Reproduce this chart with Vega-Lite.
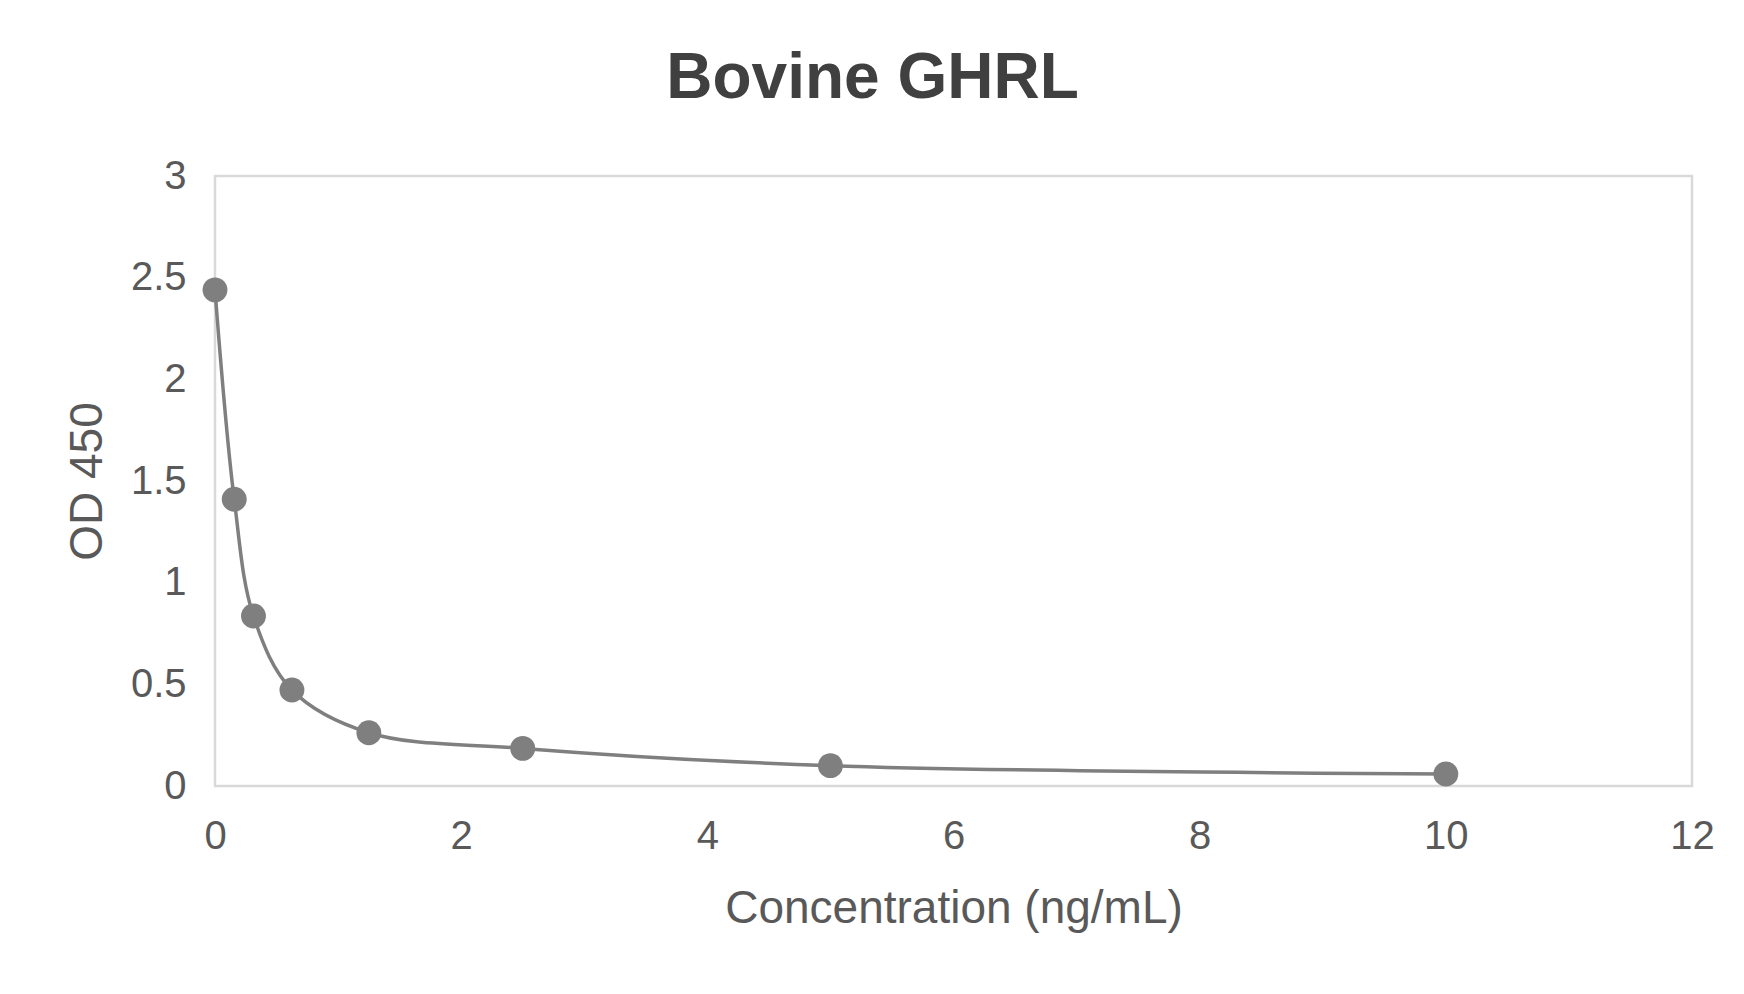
{
  "$schema": "https://vega.github.io/schema/vega-lite/v6.json",
  "width": 1477,
  "height": 610,
  "autosize": {"type": "none"},
  "padding": {"left": 215, "top": 176, "right": 52, "bottom": 208},
  "background": "white",
  "title": {
    "text": "Bovine GHRL",
    "font": "Liberation Sans",
    "fontSize": 64,
    "fontWeight": "bold",
    "color": "#404040",
    "anchor": "middle",
    "offset": 45,
    "dx": -81
  },
  "data": {
    "values": [
      {"conc": 0, "od": 2.44},
      {"conc": 0.15625, "od": 1.41},
      {"conc": 0.3125, "od": 0.836},
      {"conc": 0.625, "od": 0.472},
      {"conc": 1.25, "od": 0.262},
      {"conc": 2.5, "od": 0.185},
      {"conc": 5, "od": 0.1},
      {"conc": 10, "od": 0.059}
    ]
  },
  "encoding": {
    "x": {
      "field": "conc",
      "type": "quantitative",
      "scale": {"domain": [0, 12], "nice": false},
      "axis": {
        "title": "Concentration (ng/mL)",
        "values": [0, 2, 4, 6, 8, 10, 12],
        "labelPadding": 30,
        "titlePadding": 30
      }
    },
    "y": {
      "field": "od",
      "type": "quantitative",
      "scale": {"domain": [0, 3], "nice": false},
      "axis": {
        "title": "OD 450",
        "values": [0, 0.5, 1, 1.5, 2, 2.5, 3],
        "format": ".1~f",
        "labelPadding": 29,
        "titlePadding": 19
      }
    }
  },
  "layer": [
    {
      "mark": {"type": "line", "interpolate": "catmull-rom", "color": "#7f7f7f", "strokeWidth": 3.5}
    },
    {
      "mark": {"type": "point", "filled": true, "shape": "circle", "size": 620, "color": "#7f7f7f", "opacity": 1}
    }
  ],
  "config": {
    "view": {"stroke": "#d9d9d9", "strokeWidth": 2.5},
    "axis": {
      "domain": false,
      "ticks": false,
      "grid": false,
      "labelFont": "Liberation Sans",
      "labelFontSize": 40,
      "labelColor": "#595959",
      "titleFont": "Liberation Sans",
      "titleFontSize": 46,
      "titleFontWeight": "normal",
      "titleColor": "#595959",
      "labelFlush": false,
      "labelOverlap": false
    }
  }
}
